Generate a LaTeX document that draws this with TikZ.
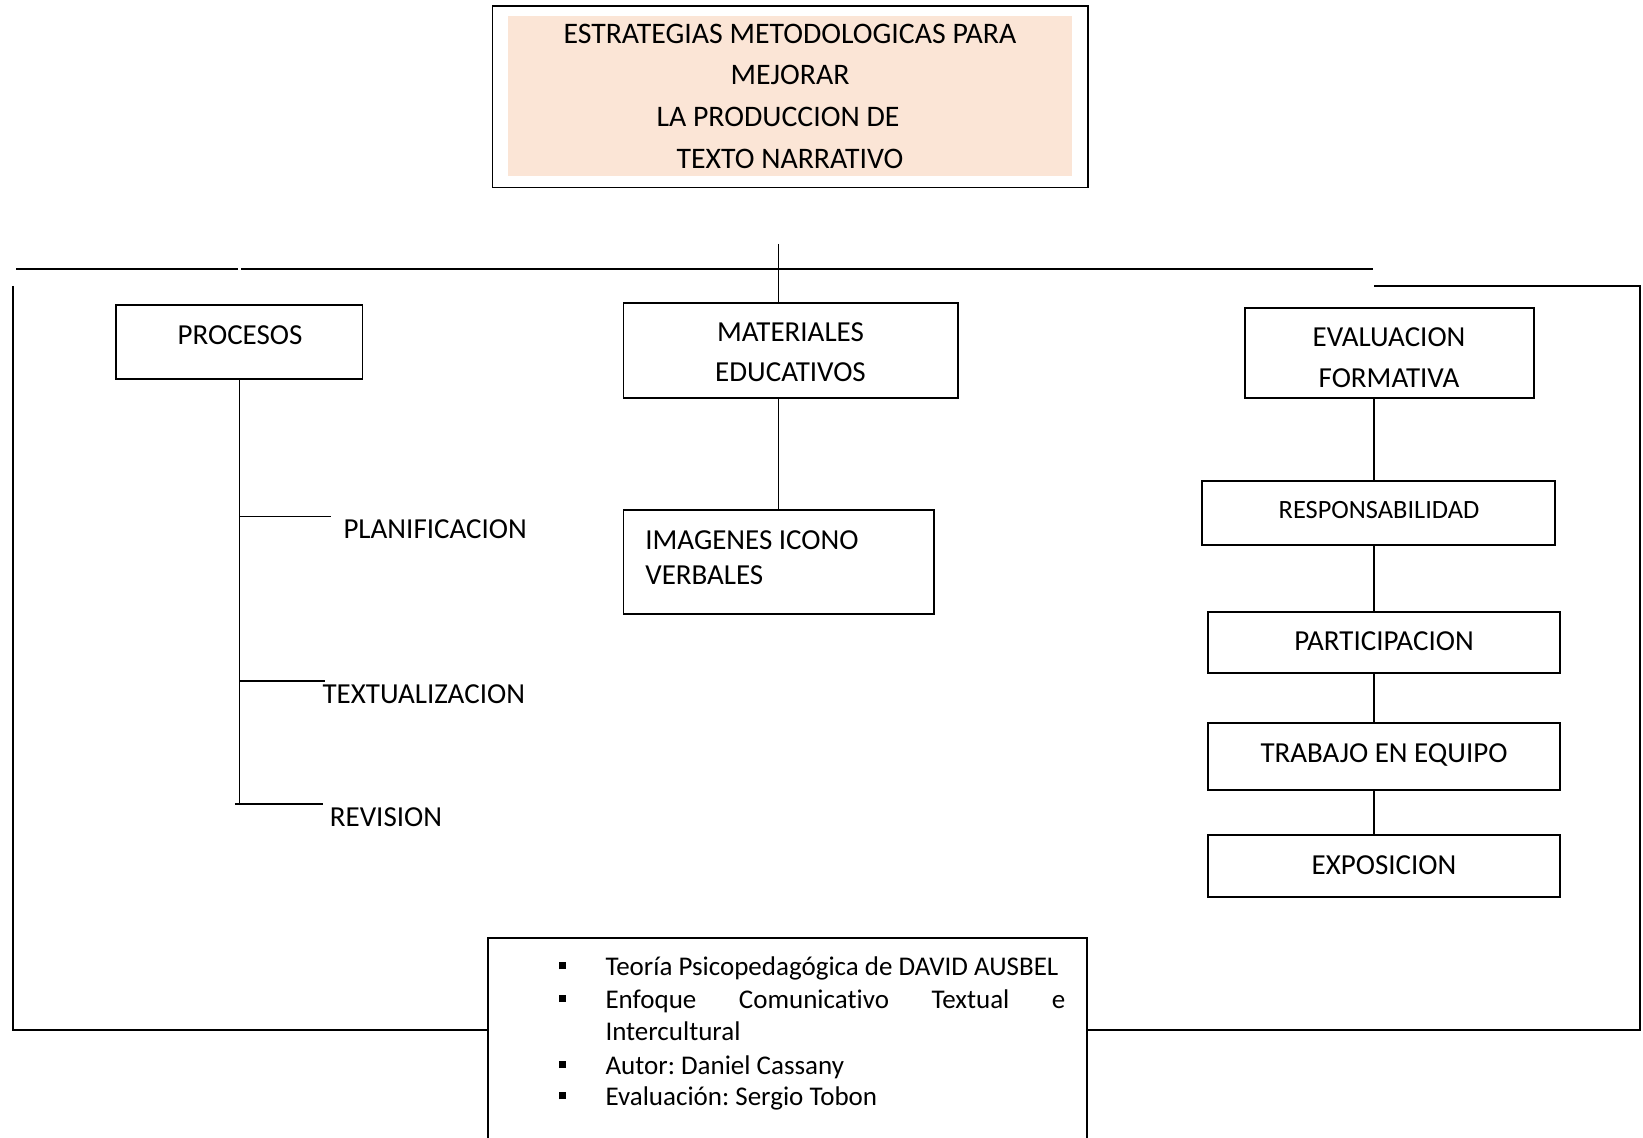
\documentclass[tikz,border=0pt]{standalone}
\usepackage{fontspec}
\setmainfont{Carlito}[RawFeature=-liga]
\usetikzlibrary{fit,positioning}
\definecolor{durazno}{RGB}{251,229,214}
\newcommand{\vinieta}{\rule[3pt]{3.5pt}{3.6pt}}
\frenchspacing
\begin{document}
\begin{tikzpicture}[x=0.5pt,y=-0.5pt,line width=0.9pt,line join=miter,
  box/.style={draw,inner sep=0pt},
  lbl/.style={anchor=base,inner sep=0pt,font=\fontsize{14.5}{17}\selectfont},
  lblw/.style={lbl,anchor=base west},
  chico/.style={lbl,font=\fontsize{13.2}{16}\selectfont},
  tit/.style={lbl,font=\fontsize{14.9}{17}\selectfont},
  lista/.style={lblw,font=\fontsize{13.5}{16}\selectfont}]
 \useasboundingbox (0,0) rectangle (1643,1138);
 % titulo
 \fill[durazno] (508,15.7) rectangle (1072,176);
 \node[box,fit={(492.5,6.3) (1087.6,187.6)}] (titulo) {};
 \node[tit] (t1) at (790,43.9) {ESTRATEGIAS METODOLOGICAS PARA};
 \node[tit] (t2) at (790,84.7) {MEJORAR};
 \node[tit] (t3) at (778,126.7) {LA PRODUCCION DE};
 \node[tit] (t4) at (790,168.6) {TEXTO NARRATIVO};
 % cajas
 \node[box,fit={(116.3,304.9) (362.5,379.3)}] (proc) {};
 \node[box,fit={(623.4,302.8) (957.7,398.2)}] (mat) {};
 \node[box,fit={(623.4,510.3) (933.6,614)}] (img) {};
 \node[box,fit={(1244.8,308) (1534,398.2)}] (eval) {};
 \node[box,fit={(1201.8,481) (1555,545)}] (resp) {};
 \node[box,fit={(1208,612) (1560,672.7)}] (part) {};
 \node[box,fit={(1208,723) (1560,790)}] (trab) {};
 \node[box,fit={(1208,835) (1560,897)}] (expo) {};
 \node[box,fit={(488.3,937.8) (1086.6,1150)}] (teoria) {};
 % textos
 \node[lbl] (procT) at (240,344.6) {PROCESOS};
 \node[lbl] (matA) at (790.5,341.5) {MATERIALES};
 \node[lbl] (matB) at (790.5,381.3) {EDUCATIVOS};
 \node[lblw] (imgA) at (644.4,550) {IMAGENES ICONO};
 \node[lblw] (imgB) at (644.4,584.5) {VERBALES};
 \node[lbl] (evalA) at (1389,346.7) {EVALUACION};
 \node[lbl] (evalB) at (1389,387.6) {FORMATIVA};
 \node[chico] (respT) at (1379,518.8) {RESPONSABILIDAD};
 \node[lbl] (partT) at (1384,650.3) {PARTICIPACION};
 \node[lbl] (trabT) at (1384,762.7) {TRABAJO EN EQUIPO};
 \node[lbl] (expoT) at (1384,874.8) {EXPOSICION};
 \node[lblw] (plan) at (342.6,538.3) {PLANIFICACION};
 \node[lblw] (textu) at (321.7,703) {TEXTUALIZACION};
 \node[lblw] (rev) at (329,826.6) {REVISION};
 % lista
 \foreach \y/\n in {975.3/1,1008/2,1074/3,1105.3/4}
  \node[lbl] (vin\n) at (562.7,\y) {\vinieta};
 \node[lista] (l1) at (604.6,975.3) {Teoría Psicopedagógica de DAVID AUSBEL};
 \node[lista] (l2) at (604.6,1008) {\makebox[230pt][s]{Enfoque Comunicativo Textual e}};
 \node[lista] (l3) at (604.6,1040.3) {Intercultural};
 \node[lista] (l4) at (604.6,1074) {Autor: Daniel Cassany};
 \node[lista] (l5) at (604.6,1105.3) {Evaluación: Sergio Tobon};
 % lineas
 \coordinate (hA) at (16,269.3); \coordinate (hB) at (238,269.3);
 \coordinate (hC) at (241,269.3); \coordinate (hD) at (1372.6,269.3);
 \coordinate (vTop) at (778.5,244);
 \coordinate (izq) at (12.6,286); \coordinate (izqB) at (12.6,1030);
 \coordinate (der) at (1374,286); \coordinate (derE) at (1640,286);
 \coordinate (derB) at (1640,1030);
 \coordinate (eje) at (1373.7,0);
 \draw (hA) -- (hB);
 \draw (hC) -- (hD);
 \draw (vTop) -- (vTop |- mat.north);
 \draw (izq) -- (izqB) -- (izqB -| teoria.west);
 \draw (der) -- (derE) -- (derB) -- (derB -| teoria.east);
 \draw (img.north |- mat.south) -- (img.north);
 \foreach \a/\b in {eval/resp,resp/part,part/trab,trab/expo}
  \draw (eje |- \a.south) -- (eje |- \b.north);
 % ramas de procesos
 \coordinate (ramA) at (331,516.6); \coordinate (ramB) at (324.8,681);
 \coordinate (ramC) at (322.7,803.7);
 \draw (proc.south) -- (proc.south |- ramC);
 \draw (proc.south |- ramA) -- (ramA);
 \draw (proc.south |- ramB) -- (ramB);
 \draw ([xshift=-2.3pt]proc.south |- ramC) -- (ramC);
\end{tikzpicture}
\end{document}
